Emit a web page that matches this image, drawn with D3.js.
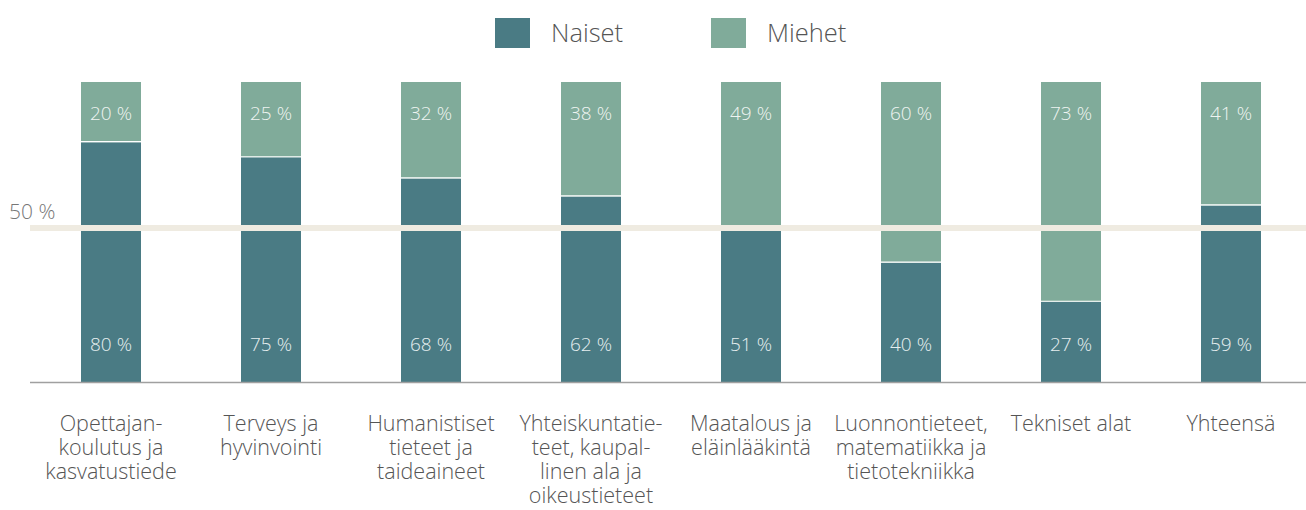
<!DOCTYPE html>
<html>
<head>
<meta charset="utf-8">
<script src="https://d3js.org/d3.v7.min.js"></script>
<style>
  body { margin: 0; background: #fff; }
  svg text { font-family: "Open Sans", "Noto Sans", sans-serif; font-weight: 300; }
</style>
</head>
<body>
<div id="chart"></div>
<script>
// kategoriat ja arvot (%)
const categories = [
  ["Opettajan-", "koulutus ja", "kasvatustiede"],
  ["Terveys ja", "hyvinvointi"],
  ["Humanistiset", "tieteet ja", "taideaineet"],
  ["Yhteiskuntatie-", "teet, kaupal-", "linen ala ja", "oikeustieteet"],
  ["Maatalous ja", "eläinlääkintä"],
  ["Luonnontieteet,", "matematiikka ja", "tietotekniikka"],
  ["Tekniset alat"],
  ["Yhteensä"]
];
const naiset = [80, 75, 68, 62, 51, 40, 27, 59];
const miehet = [20, 25, 32, 38, 49, 60, 73, 41];
const seriesNames = ["Naiset", "Miehet"];
const refValue = 50;
const refLabel = "50 %";

const colors = { Naiset: "#4a7b84", Miehet: "#80ab9a" };

const W = 1306, H = 510;
const svg = d3.select("#chart").append("svg")
  .attr("width", W).attr("height", H);

const x = d3.scaleBand()
  .domain(d3.range(categories.length))
  .range([31, 1311])
  .paddingInner(0.625)
  .paddingOuter(0.3125);

const y = d3.scaleLinear().domain([0, 100]).range([383, 82]);

// pinotut palkit
const rows = naiset.map((n, i) => ({ i, Naiset: n, Miehet: miehet[i] }));
const stacked = d3.stack().keys(seriesNames)(rows);

svg.append("g").selectAll("g")
  .data(stacked)
  .join("g")
  .attr("fill", d => colors[d.key])
  .selectAll("rect")
  .data(d => d)
  .join("rect")
  .attr("x", d => x(d.data.i))
  .attr("width", x.bandwidth())
  .attr("y", d => y(d[1]))
  .attr("height", d => y(d[0]) - y(d[1]));

// valkoinen erotinviiva segmenttien välissä
svg.append("g").selectAll("line")
  .data(rows)
  .join("line")
  .attr("x1", d => x(d.i))
  .attr("x2", d => x(d.i) + x.bandwidth())
  .attr("y1", d => y(d.Naiset) - 0.5)
  .attr("y2", d => y(d.Naiset) - 0.5)
  .attr("stroke", "#fff")
  .attr("stroke-width", 1.2);

// perusviiva
svg.append("line")
  .attr("x1", 30).attr("x2", W)
  .attr("y1", y(0) - 0.5).attr("y2", y(0) - 0.5)
  .attr("stroke", "#a0a0a0").attr("stroke-width", 1.5);

// 50 % viiva
svg.append("line")
  .attr("x1", 30).attr("x2", W)
  .attr("y1", y(refValue) - 4.5).attr("y2", y(refValue) - 4.5)
  .attr("stroke", "#efebe1").attr("stroke-width", 6);

svg.append("text")
  .attr("x", 9).attr("y", y(refValue) - 14)
  .attr("font-size", 21).attr("fill", "#777")
  .text(refLabel);

// arvotekstit
svg.append("g").selectAll("text")
  .data(rows)
  .join("text")
  .attr("x", d => x(d.i) + x.bandwidth() / 2)
  .attr("y", 120)
  .attr("text-anchor", "middle")
  .attr("font-size", 19).attr("fill", "#eef4f1")
  .text(d => d.Miehet + " %");

svg.append("g").selectAll("text")
  .data(rows)
  .join("text")
  .attr("x", d => x(d.i) + x.bandwidth() / 2)
  .attr("y", 351)
  .attr("text-anchor", "middle")
  .attr("font-size", 19).attr("fill", "#e6eff0")
  .text(d => d.Naiset + " %");

// kategoriatekstit
const cat = svg.append("g").selectAll("text")
  .data(categories)
  .join("text")
  .attr("x", (d, i) => x(i) + x.bandwidth() / 2)
  .attr("y", 431)
  .attr("text-anchor", "middle")
  .attr("font-size", 21.5).attr("fill", "#555");
cat.selectAll("tspan")
  .data(d => d)
  .join("tspan")
  .attr("x", function () { return d3.select(this.parentNode).attr("x"); })
  .attr("dy", (d, j) => j === 0 ? 0 : 24)
  .text(d => d);

// selite
const legendX = [495, 711];
const legend = svg.append("g").selectAll("g")
  .data(seriesNames)
  .join("g")
  .attr("transform", (d, i) => `translate(${legendX[i]},18)`);
legend.append("rect")
  .attr("width", 35).attr("height", 30)
  .attr("fill", d => colors[d]);
legend.append("text")
  .attr("x", 56).attr("y", 24)
  .attr("font-size", 25.5).attr("fill", "#555")
  .text(d => d);
</script>
</body>
</html>
